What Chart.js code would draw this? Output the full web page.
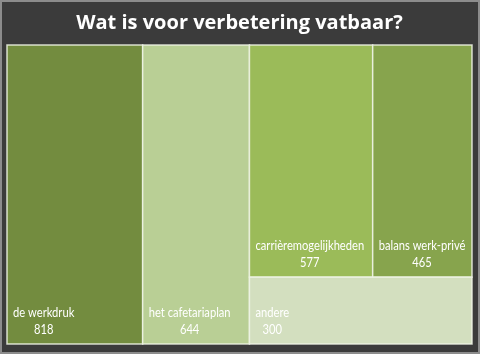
<!DOCTYPE html>
<html>
<head>
<meta charset="utf-8">
<script src="https://cdn.jsdelivr.net/npm/chart.js@4"></script>
<style>
  html, body { margin: 0; padding: 0; background: #ffffff; }
  #wrap { width: 480px; height: 354px; position: relative; }
</style>
</head>
<body>
<div id="wrap"><canvas id="chart" width="480" height="354"></canvas></div>
<script>
// treemap data
const labels = ['de werkdruk', 'het cafetariaplan', 'carrièremogelijkheden', 'balans werk-privé', 'andere'];
const values = [818, 644, 577, 465, 300];
const colors = ['#738c3f', '#b9cf95', '#9bbb59', '#87a44d', '#d3dfbf'];

// layout in data units (0..1 on both axes), the way Excel puts it:
// two full-height columns, then a block with a top row and one bottom cell
function layout() {
    const total = values.reduce((a, b) => a + b, 0);
    const rects = [];
    let x = 0;
    for (let i = 0; i < 2; i++) {
        const w = values[i] / total;
        rects.push({ x0: x, x1: x + w, y0: 0, y1: 1 });
        x += w;
    }
    const restSum = values[2] + values[3] + values[4];
    const topH = (values[2] + values[3]) / restSum;
    const restW = 1 - x;
    const w2 = restW * values[2] / (values[2] + values[3]);
    rects.push({ x0: x, x1: x + w2, y0: 0, y1: topH });
    rects.push({ x0: x + w2, x1: 1, y0: 0, y1: topH });
    rects.push({ x0: x, x1: 1, y0: topH, y1: 1 });
    return rects;
}
const rects = layout();

// narrow text, a bit like Calibri
function narrowText(ctx, text, x, y, align) {
    const sx = 0.86;
    ctx.save();
    ctx.translate(x, y);
    ctx.scale(sx, 1);
    ctx.textAlign = align;
    ctx.fillText(text, 0, 0);
    ctx.restore();
    return ctx.measureText(text).width * sx;
}

const treemapPlugin = {
    id: 'treemap',
    beforeDraw(chart) {
        const ctx = chart.ctx;
        ctx.save();
        ctx.fillStyle = '#3b3b3b';
        ctx.fillRect(0, 0, chart.width, chart.height);
        ctx.strokeStyle = '#8c8c8c';
        ctx.lineWidth = 2;
        ctx.strokeRect(1, 1, chart.width - 2, chart.height - 2);
        ctx.restore();
    },
    beforeDatasetsDraw(chart) {
        const ctx = chart.ctx;
        const xs = chart.scales.x, ys = chart.scales.y;
        ctx.save();
        rects.forEach((r, i) => {
            const left = xs.getPixelForValue(r.x0), right = xs.getPixelForValue(r.x1);
            const top = ys.getPixelForValue(r.y0), bottom = ys.getPixelForValue(r.y1);
            ctx.fillStyle = colors[i];
            ctx.fillRect(left, top, right - left, bottom - top);
            ctx.strokeStyle = 'rgba(240,245,230,0.85)';
            ctx.lineWidth = 1.5;
            ctx.strokeRect(left, top, right - left, bottom - top);

            ctx.fillStyle = '#ffffff';
            ctx.font = '13px Lato, sans-serif';
            ctx.textBaseline = 'middle';
            const tx = left + 6;
            const tw = narrowText(ctx, labels[i], tx, bottom - 31, 'left');
            narrowText(ctx, String(values[i]), tx + tw / 2, bottom - 14, 'center');
        });
        ctx.restore();
    }
};

new Chart(document.getElementById('chart'), {
    type: 'scatter',
    data: {
        datasets: [{
            data: rects.map((r, i) => ({ x: (r.x0 + r.x1) / 2, y: (r.y0 + r.y1) / 2, v: values[i] })),
            pointRadius: 0
        }]
    },
    options: {
        responsive: false,
        animation: false,
        layout: { padding: { left: 7, right: 8, top: 0, bottom: 10 } },
        scales: {
            x: { display: false, min: 0, max: 1 },
            y: { display: false, min: 0, max: 1, reverse: true }
        },
        plugins: {
            legend: { display: false },
            tooltip: { enabled: false },
            title: {
                display: true,
                text: 'Wat is voor verbetering vatbaar?',
                color: '#ffffff',
                font: { family: '"Open Sans", sans-serif', size: 20, weight: 'bold' },
                padding: { top: 11, bottom: 10 }
            }
        }
    },
    plugins: [treemapPlugin]
});
</script>
</body>
</html>
